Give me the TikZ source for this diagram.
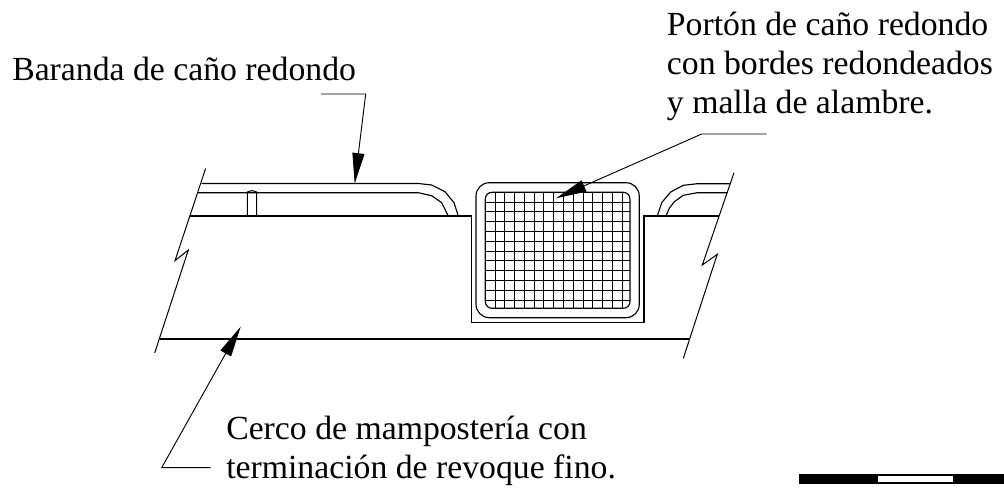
\documentclass[tikz,border=0pt]{standalone}
\usepackage{xcolor}
\usepackage{fontspec}
\setmainfont{Liberation Serif}
\usetikzlibrary{arrows.meta}

\tikzset{
  plano/.style={line width=0.85pt,line join=miter},
  fino/.style={line width=0.75pt},
  leader/.style={line width=0.7pt,-{Triangle[width=9pt,length=23pt]}},
  rotulo/.style={anchor=base west,inner sep=0pt,align=left,font=\fontsize{25.3}{28.9}\selectfont}
}

\begin{document}
\begin{tikzpicture}[x=0.75pt,y=0.75pt,yscale=-1]
\useasboundingbox (0,0) rectangle (1004,489);

%Shape: Wall
\draw [plano] (190,216) -- (471.7,216) -- (471.7,322.7) -- (644,322.7) -- (644,216) -- (719.3,216) ;
\draw [plano] (160,339) -- (689,339) ;
%Break lines
\draw [fino] (205.6,168.5) -- (175,260.7) -- (188.3,250) -- (154.7,353) ;
\draw [fino] (734,172.7) -- (702.3,265) -- (717.3,254.3) -- (683.3,358.3) ;

%Left rail
\draw [plano] (201.7,183.5) -- (418.3,183.5) -- (431.7,185) -- (445,191.7) -- (454,202.7) -- (458.3,216) ;
\draw [plano] (197.7,192.7) -- (418.3,192.7) -- (431.7,195.7) -- (441.7,202.7) -- (448.3,216) ;
%Post
\draw [fino] (247.3,216) -- (247.3,192) -- (252,190.5) -- (256.7,192) -- (256.7,216) ;
%Right rail
\draw [plano] (730.7,183.7) -- (697.3,183.7) -- (683.3,185.3) -- (670.7,192) -- (661.7,202.7) -- (657.3,216) ;
\draw [plano] (727.3,192.7) -- (697.3,192.7) -- (683.3,195.3) -- (674.3,201.7) -- (669.3,208.3) -- (666,216) ;

%Gate
\draw [plano,rounded corners=10pt] (476,182.7) rectangle (639.3,317.7) ;
\draw [plano,rounded corners=5pt] (485.3,192.3) rectangle (630,308.3) ;
%Wire mesh
\foreach \i in {0,...,13} {
  \draw [fino] ({495+9.79*\i},192.3) -- ({495+9.79*\i},308.3) ;
}
\foreach \j in {0,...,10} {
  \draw [fino] (485.3,{202+9.8*\j}) -- (630,{202+9.8*\j}) ;
}

%Scale bar
\draw [plano,fill=black] (799.3,475) rectangle (877.7,483) ;
\draw [plano,fill=white] (877.7,475) rectangle (953.7,483) ;
\draw [plano,fill=black] (953.7,475) rectangle (1004,483) ;

% Text Node
\node (baranda) [rotulo] at (12,80.7) {Baranda de caño redondo};
% Text Node
\node (porton) [rotulo] at (666.7,113) {Portón de caño redondo\\con bordes redondeados\\y malla de alambre.};
% Text Node
\node (cerco) [rotulo] at (226,478) {Cerco de mampostería con\\terminación de revoque fino.};

%Straight Lines
\coordinate (barandaStart) at (321,94);
\coordinate (barandaElbow) at (365.7,94);
\coordinate (barandaTip) at (354.7,183.7);
\draw [leader] (barandaStart) -- (barandaElbow) -- (barandaTip) ;
\coordinate (portonStart) at (766.7,134);
\coordinate (portonElbow) at (701.7,134);
\coordinate (portonTip) at (556,198.3);
\draw [leader] (portonStart) -- (portonElbow) -- (portonTip) ;
\coordinate (cercoStart) at (210.7,467.7);
\coordinate (cercoElbow) at (161.7,467.7);
\coordinate (cercoTip) at (240.7,326.7);
\draw [leader] (cercoStart) -- (cercoElbow) -- (cercoTip) ;
\end{tikzpicture}
\end{document}
